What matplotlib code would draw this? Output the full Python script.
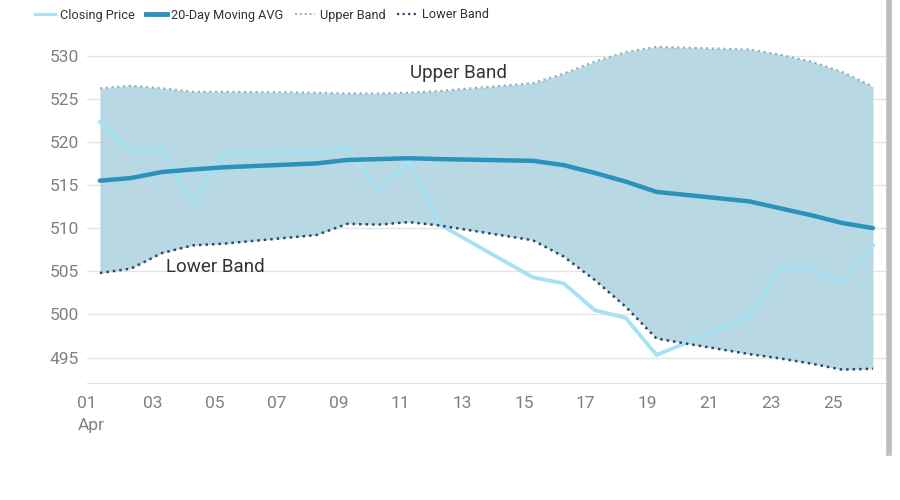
import matplotlib
matplotlib.use("Agg")
import matplotlib.pyplot as plt
import matplotlib.transforms as mtransforms
from matplotlib.lines import Line2D
import pandas as pd

# trading days in April
days = [1, 2, 3, 4, 5, 8, 9, 10, 11, 12, 15, 16, 17, 18, 19, 22, 23, 24, 25, 26]
closing = [522.3, 519.0, 519.2, 512.9, 518.5, 518.8, 519.3, 514.4, 517.9, 510.4,
           504.3, 503.6, 500.5, 499.6, 495.3, 499.7, 505.4, 505.4, 503.6, 508.0]
moving_avg = [515.5, 515.8, 516.5, 516.8, 517.05, 517.5, 517.9, 518.0, 518.1, 518.0,
              517.8, 517.3, 516.4, 515.4, 514.2, 513.1, 512.3, 511.5, 510.6, 510.0]
upper_band = [526.2, 526.5, 526.2, 525.8, 525.8, 525.7, 525.6, 525.6, 525.7, 525.9,
              526.8, 527.9, 529.3, 530.4, 531.0, 530.7, 530.1, 529.3, 528.1, 526.4]
lower_band = [504.8, 505.3, 507.1, 508.0, 508.2, 509.2, 510.5, 510.4, 510.7, 510.3,
              508.6, 506.7, 504.0, 500.9, 497.2, 495.4, 494.9, 494.3, 493.6, 493.7]
y_ticks = [495, 500, 505, 510, 515, 520, 525, 530]
tick_days = [1, 3, 5, 7, 9, 11, 13, 15, 17, 19, 21, 23, 25]

dates = pd.to_datetime(["2024-04-%02d" % d for d in days])
tick_dates = pd.to_datetime(["2024-04-%02d" % d for d in tick_days])
tick_labels = ["%02d" % d for d in tick_days]
tick_labels[0] = "01\nApr"

plt.rcParams['font.family'] = ['Roboto', 'DejaVu Sans']

fig = plt.figure(figsize=(9, 5), dpi=100)
ax = fig.add_axes([0.0967, 0.234, 0.889, 0.698])

c_close = '#a6e2f2'
c_ma = '#2a92bb'
c_upper = '#8fb2c2'
c_lower = '#2c4a66'
c_fill = '#b8d8e3'

ax.fill_between(dates, lower_band, upper_band, color=c_fill, zorder=1, linewidth=0)
ax.plot(dates, closing, color=c_close, linewidth=2.8, zorder=3)
ax.plot(dates, upper_band, color=c_upper, linewidth=1.6, linestyle=(0, (1, 1.6)), zorder=3)
ax.plot(dates, lower_band, color=c_lower, linewidth=1.8, linestyle=(0, (1, 1.6)), zorder=3)
ax.plot(dates, moving_avg, color=c_ma, linewidth=3.2, zorder=4, solid_capstyle='round')

ax.text(pd.Timestamp("2024-04-12 14:00"), 528.0, "Upper Band", fontsize=13.5,
        color='#333333', ha='center', va='center', zorder=5)
ax.text(pd.Timestamp("2024-04-04 18:00"), 505.5, "Lower Band", fontsize=13.5,
        color='#333333', ha='center', va='center', zorder=5)

ax.set_ylim(492.05, 532.5)
ax.set_xlim(pd.Timestamp("2024-04-01") - pd.Timedelta(hours=10),
            pd.Timestamp("2024-04-26") + pd.Timedelta(hours=11))
ax.set_yticks(y_ticks)
ax.set_xticks(tick_dates)
ax.set_xticklabels(tick_labels)
ax.grid(axis='y', color='#e4e4e4', linewidth=1, zorder=0)
ax.set_axisbelow(True)
for s in ['top', 'right', 'left']:
    ax.spines[s].set_visible(False)
ax.spines['bottom'].set_color('#e0e0e0')
ax.tick_params(axis='both', length=0, labelsize=12.5, colors='#808080')
ax.tick_params(axis='x', pad=9)
ax.tick_params(axis='y', pad=6)
shift = mtransforms.ScaledTranslation(-9 / 100, 0, fig.dpi_scale_trans)
for lbl in ax.get_xticklabels():
    lbl.set_multialignment('left')
    lbl.set_linespacing(1.6)
    lbl.set_transform(lbl.get_transform() + shift)

handles = [
    Line2D([], [], color=c_close, linewidth=2.2),
    Line2D([], [], color=c_ma, linewidth=3.5),
    Line2D([], [], color=c_upper, linewidth=1.4, linestyle=(0, (1, 1.5))),
    Line2D([], [], color=c_lower, linewidth=1.6, linestyle=(0, (1, 1.5))),
]
fig.legend(handles, ["Closing Price", "20-Day Moving AVG", "Upper Band", "Lower Band"],
           loc='center left', bbox_to_anchor=(0.026, 0.97), ncol=4, frameon=False,
           fontsize=9.2, handlelength=1.6, handletextpad=0.35, columnspacing=0.9,
           labelcolor='#333333')

# grey bar on the right edge
fig.add_artist(Line2D([0.988, 0.988], [0.094, 1.0], color='#bdbdbd', linewidth=4,
                      transform=fig.transFigure))

fig.savefig("out.png", dpi=100)
